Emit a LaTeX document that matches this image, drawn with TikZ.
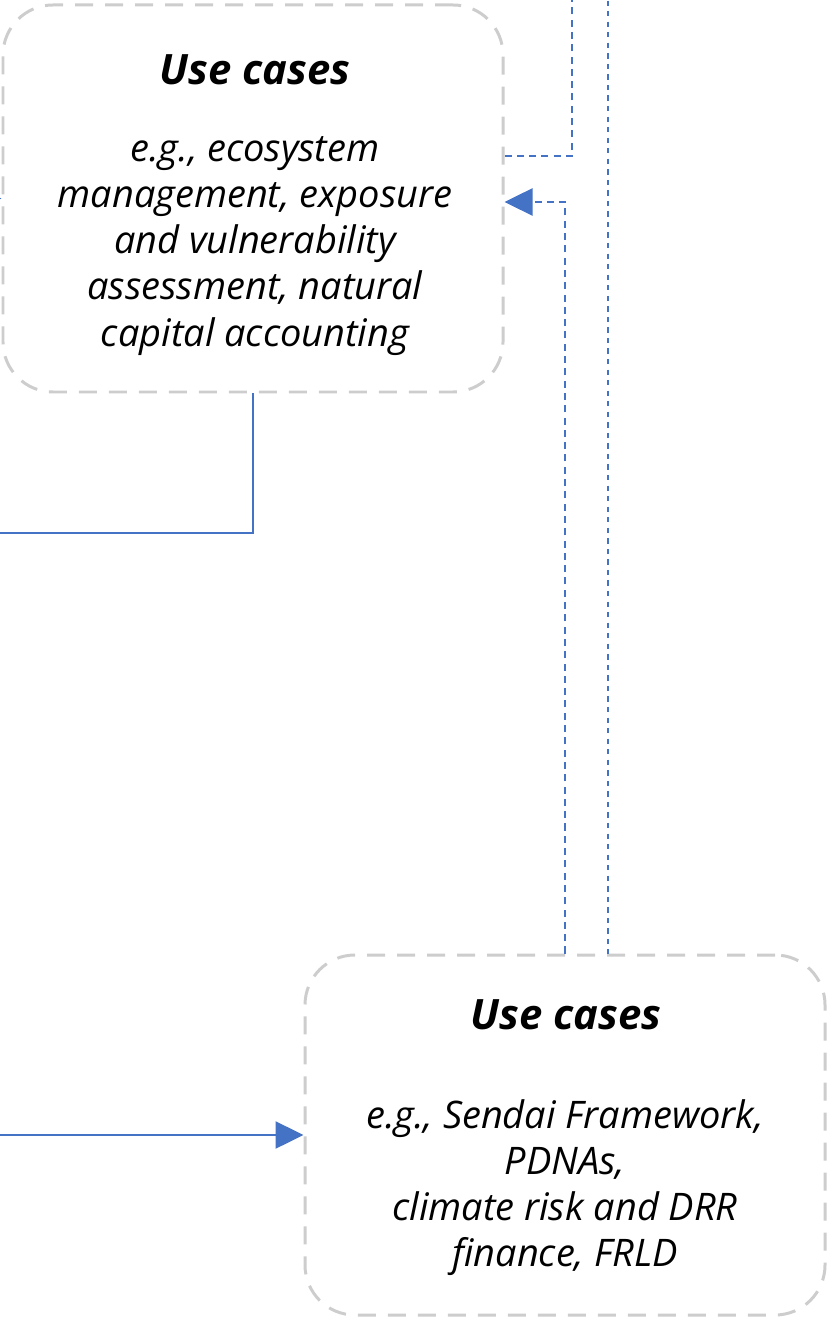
\documentclass[tikz,border=0pt]{standalone}
\usepackage{fontspec}
\setmainfont{Open Sans}
\usepackage{xcolor}
\usetikzlibrary{arrows.meta,positioning}
\definecolor{lineblue}{RGB}{68,114,196}
\definecolor{boxgray}{RGB}{205,205,205}

\begin{document}
\begin{tikzpicture}[
		usebox/.style={draw=boxgray, line width=0.85pt, dash pattern=on 0.18cm off 0.12cm, rounded corners=0.5cm},
		casetitle/.style={font=\fontsize{11.9}{15}\selectfont\bfseries\itshape},
		casetext/.style={align=center, font=\fontsize{10.8}{13.1}\selectfont\itshape},
		flow/.style={draw=lineblue, line width=0.7pt},
		dashflow/.style={flow, dash pattern=on 2pt off 1.5pt},
		dotflow/.style={flow, dash pattern=on 1.5pt off 1.5pt},
		tip/.style={-{Triangle[length=0.28cm, width=0.27cm]}}
	]
		\clip (0,0) rectangle (8.35,-13.26);
		% the two boxes
		\node[usebox, minimum width=5cm, minimum height=3.87cm] (ecoBox) at (2.53,-1.985) {};
		\node[usebox, minimum width=5.2cm, minimum height=3.6cm] (sendaiBox) at (5.65,-11.35) {};
		\node[casetitle] (ecoTitle) at (2.55,-0.70) {Use cases};
		\node[casetext] (ecoText) at (2.55,-2.46) {e.g., ecosystem\\ management, exposure\\ and vulnerability\\ assessment, natural\\ capital accounting};
		\node[casetitle] (sendaiTitle) at (5.66,-10.15) {Use cases};
		\node[casetext] (sendaiText) at (5.65,-11.88) {e.g., Sendai Framework,\\ PDNAs,\\ climate risk and DRR\\ finance, FRLD};
		% ends of the connectors outside the picture
		\coordinate (upA) at (5.72,0.1);
		\coordinate (upB) at (6.08,0.1);
		\coordinate (leftA) at (-0.5,-1.985);
		\coordinate (leftB) at (-0.1,-5.33);
		\coordinate (leftC) at (-0.1,-11.35);
		% connectors
		\draw[flow, tip] (leftA) -- (ecoBox.west);
		\draw[flow] (ecoBox.south) |- (leftB);
		\draw[flow, tip] (leftC) -- (sendaiBox.west);
		\draw[dashflow] ([yshift=0.425cm]ecoBox.east) -| (upA);
		\draw[dashflow, tip] (sendaiBox.north) |- ([yshift=-0.035cm]ecoBox.east);
		\draw[dotflow] (upB) -- (upB |- sendaiBox.north);
	\end{tikzpicture}
\end{document}
